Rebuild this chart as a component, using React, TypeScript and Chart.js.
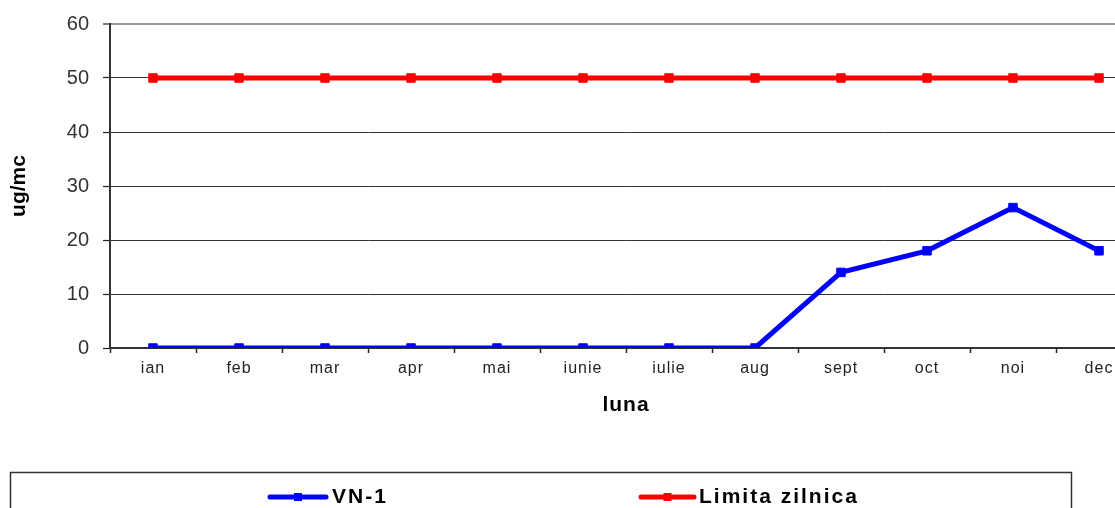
import React, { useEffect, useRef } from "react";
import { Chart, registerables, Scale } from "chart.js";

Chart.register(...registerables);

const categories = ["ian", "feb", "mar", "apr", "mai", "iunie", "iulie", "aug", "sept", "oct", "noi", "dec"];
const vn1Values = [0, 0, 0, 0, 0, 0, 0, 0, 14, 18, 26, 18];
const limitValues = [50, 50, 50, 50, 50, 50, 50, 50, 50, 50, 50, 50];
const yMin = 0;
const yMax = 60;
const yStep = 10;
const seriesNames = ["VN-1", "Limita zilnica"];
const seriesColors = ["#0000FF", "#FF0000"];
const xTitle = "luna";
const yTitle = "ug/mc";

const FONT = "'Liberation Sans', Arial, sans-serif";

const spacingPlugin = {
  id: "spacingPlugin",
  beforeLayout(chart: any) {
    const y = chart.scales && chart.scales.y;
    if (y && !y.__wrapped) {
      y.__wrapped = true;
      y.draw = function (area: any) {
        const ctx = this.ctx;
        ctx.save();
        ctx.letterSpacing = "0px";
        (Scale.prototype as any).draw.call(this, area);
        ctx.restore();
      };
    }
  },
  beforeDraw(chart: any) {
    (chart.ctx as any).letterSpacing = "1px";
  },
};

const boxLegend = {
  id: "boxLegend",
  afterDraw(chart: any) {
    const ctx = chart.ctx as CanvasRenderingContext2D;
    ctx.save();
    (ctx as any).letterSpacing = "2px";
    ctx.strokeStyle = "#333";
    ctx.lineWidth = 1.5;
    ctx.strokeRect(10.5, 472.5, 1061, 80);
    const slots = [
      { x0: 270, x1: 326, tx: 332 },
      { x0: 641, x1: 694, tx: 699 },
    ];
    const y = 497;
    chart.data.datasets.forEach((ds: any, i: number) => {
      const s = slots[i];
      ctx.strokeStyle = ds.borderColor;
      ctx.lineWidth = 5;
      ctx.lineCap = "round";
      ctx.beginPath();
      ctx.moveTo(s.x0, y);
      ctx.lineTo(s.x1, y);
      ctx.stroke();
      ctx.fillStyle = ds.borderColor;
      const cx = (s.x0 + s.x1) / 2;
      ctx.fillRect(cx - 4, y - 4, 8, 8);
      ctx.fillStyle = "#000";
      ctx.font = `bold 21px ${FONT}`;
      ctx.textBaseline = "middle";
      ctx.textAlign = "left";
      ctx.fillText(ds.label, s.tx, y);
    });
    ctx.restore();
  },
};

export default function App() {
  const canvasRef = useRef<HTMLCanvasElement | null>(null);

  useEffect(() => {
    document.body.style.margin = "0";
    document.body.style.overflow = "hidden";
    const canvas = canvasRef.current!;
    const chart = new Chart(canvas, {
      type: "line",
      data: {
        labels: categories,
        datasets: [
          {
            label: seriesNames[0],
            data: vn1Values,
            borderColor: seriesColors[0],
            backgroundColor: seriesColors[0],
            borderWidth: 5,
            pointStyle: "rect",
            pointRadius: 6,
            pointBorderWidth: 1,
            tension: 0,
          },
          {
            label: seriesNames[1],
            data: limitValues,
            borderColor: seriesColors[1],
            backgroundColor: seriesColors[1],
            borderWidth: 5,
            pointStyle: "rect",
            pointRadius: 6,
            pointBorderWidth: 1,
            tension: 0,
          },
        ],
      },
      options: {
        responsive: false,
        animation: false,
        devicePixelRatio: 1,
        layout: { padding: { left: 0, top: 23, right: 18, bottom: 86 } },
        plugins: {
          legend: { display: false },
          tooltip: { enabled: false },
        },
        scales: {
          x: {
            offset: true,
            grid: {
              offset: true,
              drawOnChartArea: false,
              drawTicks: true,
              tickLength: 5,
              tickColor: "#222",
              tickWidth: 1.5,
            },
            border: { color: "#333", width: 2 },
            ticks: {
              color: "#222",
              font: { family: FONT, size: 16 },
              padding: 6,
              maxRotation: 0,
              autoSkip: false,
            },
            title: {
              display: true,
              text: xTitle,
              color: "#000",
              font: { family: FONT, size: 21, weight: "bold" },
              padding: { top: 4, bottom: 4 },
            },
            afterFit(scale: any) {
              scale.height = 74;
            },
          },
          y: {
            min: yMin,
            max: yMax,
            grid: {
              color: (c: any) => (c.tick && c.tick.value === yMax ? "#999" : "#333"),
              lineWidth: (c: any) => (c.tick && c.tick.value === yMax ? 2 : 1),
              drawTicks: true,
              tickLength: 7,
              tickColor: "#222",
              tickWidth: 1.2,
            },
            border: { color: "#333", width: 2 },
            ticks: {
              stepSize: yStep,
              color: "#333",
              font: { family: FONT, size: 20, lineHeight: 1 },
              padding: 14,
            },
            title: {
              display: true,
              text: yTitle,
              color: "#000",
              font: { family: FONT, size: 21, weight: "bold" },
              padding: { top: 7, bottom: 7 },
            },
            afterFit(scale: any) {
              scale.width = 110;
            },
          },
        },
      },
      plugins: [spacingPlugin, boxLegend],
    } as any);
    return () => chart.destroy();
  }, []);

  return (
    <div style={{ position: "absolute", left: 0, top: 0, width: 1115, height: 508, overflow: "hidden", background: "#fff" }}>
      <canvas ref={canvasRef} width={1160} height={508} style={{ width: 1160, height: 508, display: "block" }} />
    </div>
  );
}
